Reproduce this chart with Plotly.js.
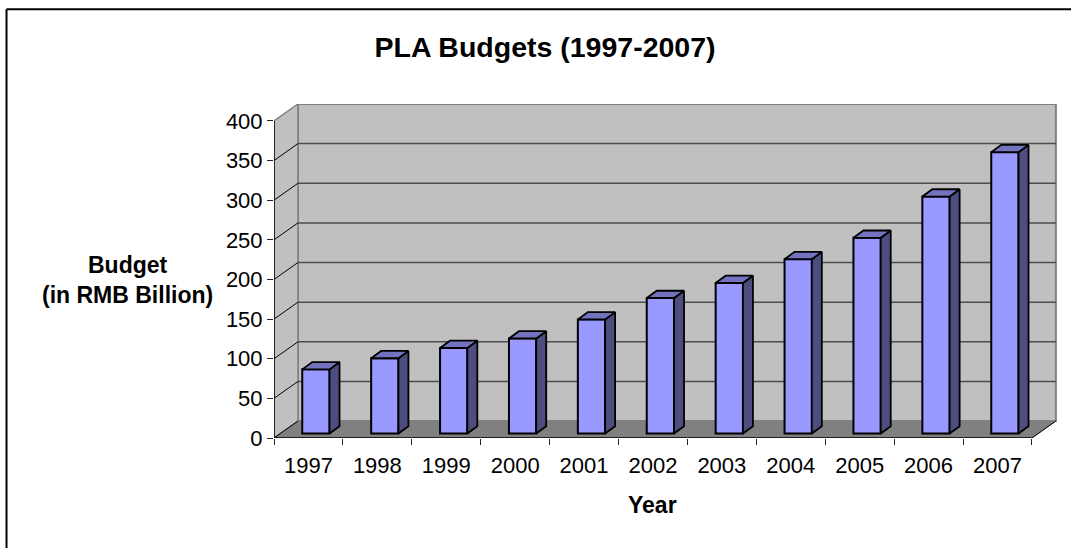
<!DOCTYPE html>
<html>
<head>
<meta charset="utf-8">
<script src="https://cdn.plot.ly/plotly-3.0.1.min.js"></script>
<style>html,body{margin:0;padding:0;background:#fff}</style>
</head>
<body>
<div id="chart" style="width:1071px;height:548px"></div>
<script>
const years = ["1997","1998","1999","2000","2001","2002","2003","2004","2005","2006","2007"];
const budgets = [81, 95, 108, 120, 144, 171, 190, 220, 247, 299, 355];
const yTicks = [0, 50, 100, 150, 200, 250, 300, 350, 400];

const chartTitle = "PLA Budgets (1997-2007)";
const yTitle = "Budget<br>(in RMB Billion)";
const xTitle = "Year";

// Projection of the fake 3D box, in axis units
const wallDx = 0.348, wallDy = 21.4;
const barDx = 0.145, barDy = 9.2;
const barLeft = -0.09, barWidth = 0.396, barBase = 5.6;
const xMin = -0.5, xMax = 10.5;

const idx = years.map((_, i) => i);
const font = "Liberation Sans, Arial, sans-serif";

function polyShape(pts, fill, lineColor, lineWidth) {
  const path = pts.map((p, i) => (i ? "L" : "M") + p[0] + "," + p[1]).join(" ") + " Z";
  return {type: "path", xref: "x", yref: "y", layer: "below", path: path,
          fillcolor: fill, line: {color: lineColor, width: lineWidth}};
}
function segShape(a, b, color, width) {
  return {type: "line", xref: "x", yref: "y", layer: "below",
          x0: a[0], y0: a[1], x1: b[0], y1: b[1], line: {color: color, width: width}};
}

const shapes = [
  polyShape([[xMin + wallDx, wallDy], [xMax + wallDx, wallDy], [xMax + wallDx, 400 + wallDy], [xMin + wallDx, 400 + wallDy]], "#C0C0C0", "#808080", 2),
  polyShape([[xMin, 0], [xMin + wallDx, wallDy], [xMin + wallDx, 400 + wallDy], [xMin, 400]], "#C0C0C0", "#808080", 1.5),
  polyShape([[xMin, 0], [xMax, 0], [xMax + wallDx, wallDy], [xMin + wallDx, wallDy]], "#808080", "#808080", 1)
];
yTicks.slice(1, -1).forEach(t => {
  shapes.push(segShape([xMin + wallDx, t + wallDy], [xMax + wallDx, t + wallDy], "#4d4d4d", 1.5));
  shapes.push(segShape([xMin, t], [xMin + wallDx, t + wallDy], "#000000", 1));
});
shapes.push(segShape([xMin, 0], [xMin + wallDx, wallDy], "#000000", 1));
shapes.push(segShape([xMax, 0], [xMax + wallDx, wallDy], "#000000", 1));
// chart-area frame
shapes.push({type: "line", xref: "paper", yref: "paper", x0: -0.3416, x1: 1.03, y0: 1.2836, y1: 1.2836, line: {color: "#000", width: 2}});
shapes.push({type: "line", xref: "paper", yref: "paper", x0: -0.3416, x1: -0.3416, y0: 1.2836, y1: -0.33, line: {color: "#000", width: 2}});

const sideX = [], sideY = [], topX = [], topY = [];
budgets.forEach((v, i) => {
  const l = i + barLeft, r = l + barWidth, b = barBase, t = barBase + v;
  sideX.push(r, r + barDx, r + barDx, r, r, null);
  sideY.push(b, b + barDy, t + barDy, t, b, null);
  topX.push(l, l + barDx, r + barDx, r, l, null);
  topY.push(t, t + barDy, t + barDy, t, t, null);
});

const traces = [
  {type: "bar", x: idx.map(i => i + barLeft), y: budgets, base: barBase, width: barWidth, offset: 0,
   marker: {color: "#9999FF", line: {color: "#000", width: 2}}, hoverinfo: "skip", showlegend: false},
  {type: "scatter", mode: "lines", x: sideX, y: sideY, fill: "toself", fillcolor: "#4D4D80",
   line: {color: "#000", width: 1.8}, hoverinfo: "skip", showlegend: false},
  {type: "scatter", mode: "lines", x: topX, y: topY, fill: "toself", fillcolor: "#7373BF",
   line: {color: "#000", width: 1.8}, hoverinfo: "skip", showlegend: false},
  {type: "scatter", mode: "lines", x: [xMin, xMin], y: [0, yTicks[yTicks.length - 1]],
   line: {color: "#000", width: 1.5}, hoverinfo: "skip", showlegend: false, cliponaxis: false},
  {type: "scatter", mode: "lines", x: [xMin, xMax], y: [0, 0],
   line: {color: "#000", width: 1.5}, hoverinfo: "skip", showlegend: false, cliponaxis: false}
];

const layout = {
  width: 1071, height: 548,
  margin: {l: 274, r: 14, t: 103.5, b: 109.5, pad: 0},
  paper_bgcolor: "#fff", plot_bgcolor: "rgba(0,0,0,0)",
  showlegend: false, barmode: "overlay", bargap: 0,
  font: {family: font, color: "#000", size: 22},
  title: {text: "<b>" + chartTitle + "</b>", x: 545 / 1071, xanchor: "center", y: 1 - 47 / 548, yanchor: "middle",
          font: {family: font, size: 28.5, color: "#000"}},
  xaxis: {type: "linear", range: [xMin, xMin + 783 / 68.9], showgrid: false, zeroline: false, showline: false,
          tickmode: "array", tickvals: idx, ticktext: years, ticks: "", ticklen: 0,
          ticklabelstandoff: 12, tickfont: {family: font, size: 22, color: "#000"},
          minor: {tickmode: "array", tickvals: [...idx.map(i => i - 0.5), xMax], ticks: "outside", ticklen: 6, tickcolor: "#222", tickwidth: 1, showgrid: false}},
  yaxis: {type: "linear", range: [0, 335 / 0.795], showgrid: false, zeroline: false, showline: false,
          tickmode: "array", tickvals: yTicks, ticks: "outside", ticklen: 6, tickcolor: "#222", tickwidth: 1,
          tickfont: {family: font, size: 22, color: "#000"}},
  shapes: shapes,
  annotations: [
    {xref: "paper", yref: "y", x: -0.1877, y: 199, text: "<b>" + yTitle + "</b>", showarrow: false, align: "center",
     font: {family: font, size: 23, color: "#000"}, xanchor: "center", yanchor: "middle"},
    {xref: "x", yref: "paper", x: 5, y: -0.2, text: "<b>" + xTitle + "</b>", showarrow: false,
     font: {family: font, size: 23, color: "#000"}, xanchor: "center", yanchor: "middle"}
  ]
};

Plotly.newPlot("chart", traces, layout, {displayModeBar: false, staticPlot: true});
</script>
</body>
</html>
